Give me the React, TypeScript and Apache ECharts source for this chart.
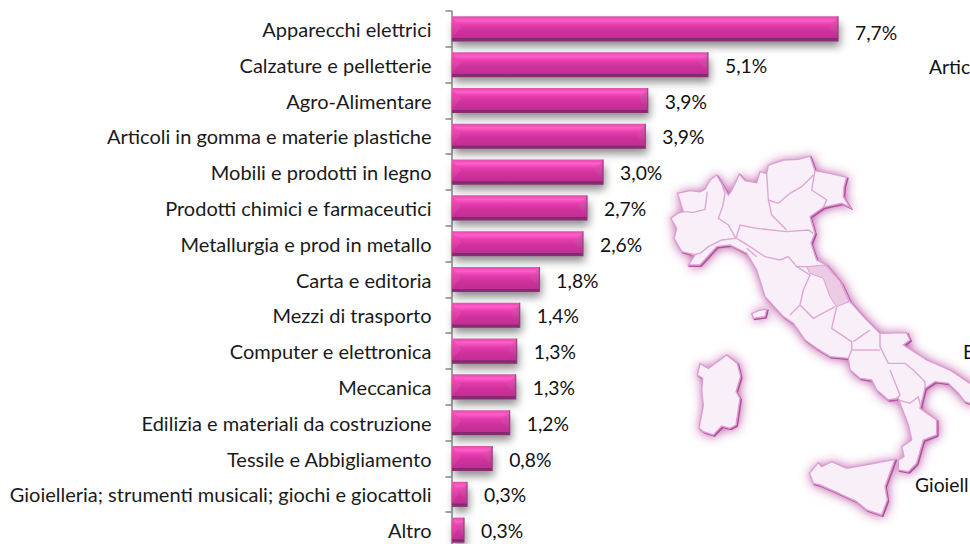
import React, { useEffect, useRef } from "react";
import * as echarts from "echarts";

const categories = [
  "Apparecchi elettrici",
  "Calzature e pelletterie",
  "Agro-Alimentare",
  "Articoli in gomma e materie plastiche",
  "Mobili e prodotti in legno",
  "Prodotti chimici e farmaceutici",
  "Metallurgia e prod in metallo",
  "Carta e editoria",
  "Mezzi di trasporto",
  "Computer e elettronica",
  "Meccanica",
  "Edilizia e materiali da costruzione",
  "Tessile e Abbigliamento",
  "Gioielleria; strumenti musicali; giochi e giocattoli",
  "Altro",
];
const values = [7.7, 5.11, 3.91, 3.86, 3.02, 2.7, 2.62, 1.75, 1.36, 1.3, 1.28, 1.16, 0.81, 0.31, 0.25];
const valueLabels = ["7,7%", "5,1%", "3,9%", "3,9%", "3,0%", "2,7%", "2,6%", "1,8%", "1,4%", "1,3%", "1,3%", "1,2%", "0,8%", "0,3%", "0,3%"];

const FONT = "Lato";
const FS = 20;
const VS = 19.3;

type P = [number, number];
const toPx = (pts: number[][], dx = 0, dy = 0): number[][] => pts.map(([x, y]) => [650 + x / 3 + dx, 150 + y / 3 + dy]);

const mainland: P[] = [
  [62,205],[82,190],[100,185],[92,160],[82,130],[120,122],[150,125],[165,118],[180,90],[200,75],[215,100],[235,135],[245,122],[268,72],[285,92],[320,98],[330,65],[350,70],[355,45],[400,30],[445,28],[480,18],[495,62],[540,70],[590,82],[582,110],[580,140],[600,172],[575,160],[520,172],[480,200],[495,250],[483,280],[500,330],[530,345],[575,400],[600,455],[650,510],[690,550],[770,548],[780,570],[760,585],[800,610],[830,630],[900,660],[960,700],[1000,740],[960,760],[945,755],[925,730],[895,700],[855,695],[825,715],[810,775],[860,810],[860,855],[820,870],[800,940],[775,965],[745,960],[745,930],[762,920],[755,890],[785,870],[775,825],[750,760],[745,745],[715,750],[680,720],[665,690],[630,685],[600,660],[595,625],[540,620],[500,595],[465,570],[430,520],[400,500],[345,440],[320,360],[290,310],[240,285],[200,290],[150,345],[115,345],[135,315],[95,305],[72,265],[80,235],
];
const sardinia: P[] = [
  [150,640],[175,655],[230,615],[262,640],[272,680],[258,725],[270,745],[258,825],[240,835],[215,828],[190,855],[160,845],[147,835],[160,765],[155,720],[158,685],[142,675],
];
const sicily: P[] = [
  [478,970],[505,938],[515,950],[545,935],[590,955],[660,942],[735,928],[705,1010],[712,1050],[695,1095],[650,1080],[620,1055],[555,1025],[510,1005],[490,1000],
];
const elba: P[] = [[305,490],[330,480],[350,478],[345,500],[310,505]];
const marche: P[] = [[470,350],[525,345],[570,395],[597,455],[560,470],[540,440],[520,385],[480,370]];
const borders: P[][] = [
  [[100,185],[130,187],[165,178],[172,125]],
  [[215,100],[225,130],[218,170],[205,205],[235,225],[258,265]],
  [[258,265],[215,270],[175,290],[150,310],[125,315]],
  [[258,265],[270,225],[320,235],[410,245]],
  [[350,70],[355,150],[365,195],[410,240]],
  [[355,150],[385,160],[420,130],[455,110],[490,75]],
  [[495,62],[485,120],[530,150],[520,172]],
  [[260,265],[300,290],[345,320],[390,330],[415,320],[440,350],[475,350]],
  [[410,245],[475,240],[490,250]],
  [[290,295],[320,320]],
  [[440,350],[480,375],[460,420],[450,465],[420,495]],
  [[450,465],[490,505],[555,470]],
  [[560,470],[545,535],[605,575],[605,600],[595,625]],
  [[660,540],[610,575]],
  [[690,550],[690,590],[715,640],[735,640]],
  [[605,600],[690,600]],
  [[720,660],[750,735],[735,750]],
  [[735,640],[765,640],[790,660],[825,695],[825,715]],
  [[745,750],[780,760],[805,740],[812,770]],
];

const glow = (pts: P[]) => ({
  type: "polygon",
  shape: { points: toPx(pts, 1.2, 1.2) },
  style: {
    fill: "#b24ea0",
    stroke: "#b24ea0",
    lineWidth: 1.5,
    shadowBlur: 11,
    shadowColor: "rgba(170,50,145,0.85)",
  },
});
const coastInner = (pts: P[]) => ({
  type: "polygon",
  shape: { points: toPx(pts) },
  style: { fill: "#f9eff8", stroke: "#dd9fd1", lineWidth: 1.4 },
});

const islands = [mainland, sardinia, sicily, elba];
const mapGraphics: any[] = [
  ...islands.map(glow),
  ...islands.map(coastInner),
  { type: "polygon", shape: { points: toPx(marche) }, style: { fill: "#eecbe4", stroke: "#dd9fd1", lineWidth: 1 } },
  ...borders.map((b) => ({
    type: "polyline",
    shape: { points: toPx(b) },
    style: { fill: "none", stroke: "#dfa6d4", lineWidth: 1.4 },
  })),
];

const clippedLabels = [
  { text: "Artico", x: 929, y: 66 },
  { text: "E", x: 963, y: 351 },
  { text: "Gioiell", x: 915, y: 484 },
];

const renderBar = (params: any, api: any) => {
  const idx = params.dataIndex;
  const origin = api.coord([0, idx]);
  const end = api.coord([api.value(0), idx]);
  const band = api.size([0, 1])[1];
  const h = band * 0.7;
  const x0 = origin[0] + 0.5;
  const x1 = end[0];
  const y0 = origin[1] - h / 2;
  const y1 = y0 + h;
  const w = x1 - x0;
  const b = Math.min(9, w / 2);
  const poly = (points: number[][], fill: any) => ({ type: "polygon", shape: { points }, style: { fill } });
  const vgrad = (stops: [number, string][]) =>
    new echarts.graphic.LinearGradient(0, 0, 0, 1, stops.map(([offset, color]) => ({ offset, color })));
  return {
    type: "group",
    children: [
      {
        type: "rect",
        shape: { x: x0, y: y0 + 2, width: w, height: h - 2 },
        style: { fill: "#8c8c8c", shadowBlur: 8, shadowColor: "rgba(0,0,0,0.45)", shadowOffsetX: 2, shadowOffsetY: 5 },
      },
      {
        type: "rect",
        shape: { x: x0, y: y0, width: w, height: h },
        style: { fill: vgrad([[0, "#c9659f"], [0.05, "#ef4cb8"], [0.16, "#ff5ec8"], [0.34, "#e53cae"], [0.55, "#cf329d"], [0.86, "#c22e93"], [0.88, "#7f2a6b"], [1, "#8c2f77"]]) },
      },
      poly([[x0, y0 + 1], [x0 + b, y0 + h * 0.42], [x0, y0 + h * 0.86]], vgrad([[0, "#f84fbd"], [1, "#cb329a"]])),
      poly([[x1, y0 + 1], [x1 - b, y0 + h * 0.42], [x1, y0 + h * 0.86]], vgrad([[0, "#e85db7"], [1, "#b82c8d"]])),
      { type: "line", shape: { x1: x1, y1: y0, x2: x1, y2: y1 }, style: { stroke: "#8a3a7a", lineWidth: 1 } },
      { type: "text", x: x1 + 17, y: origin[1] + (idx === 0 ? 3.5 : 0.5), style: { text: valueLabels[idx], font: `${VS}px ${FONT}`, fill: "#111", verticalAlign: "middle", align: "left" } },
    ],
  };
};

export default function App() {
  const ref = useRef<HTMLDivElement>(null);
  useEffect(() => {
    const chart = echarts.init(ref.current!, null, { renderer: "svg" });
    chart.setOption({
      animation: false,
      backgroundColor: "#fff",
      grid: { left: 451.5, width: 502, top: 11, height: 537, outerBoundsMode: "none" },
      xAxis: { type: "value", min: 0, max: 10, show: false },
      yAxis: {
        type: "category",
        inverse: true,
        data: categories,
        axisLine: { show: true, lineStyle: { color: "#868686", width: 1.5 } },
        axisTick: { show: true, length: 6, lineStyle: { color: "#868686", width: 1.5 } },
        axisLabel: { margin: 20, color: "#1a1a1a", fontFamily: FONT, fontSize: FS, padding: [0, 0, 2, 0] },
      },
      series: [
        {
          type: "custom",
          coordinateSystem: "cartesian2d",
          clip: false,
          encode: { x: 0, y: 1 },
          data: values.map((v, i) => [v, i]),
          renderItem: renderBar,
          z: 3,
        },
      ],
      graphic: [
        ...mapGraphics.map((g) => ({ ...g, z: 1 })),
        ...clippedLabels.map((l) => ({
          type: "text",
          x: l.x,
          y: l.y,
          z: 10,
          style: { text: l.text, font: `${VS}px ${FONT}`, fill: "#111", verticalAlign: "middle" },
        })),
      ],
    });
    return () => chart.dispose();
  }, []);
  return <div ref={ref} style={{ position: "fixed", left: 0, top: 0, width: 970, height: 544, overflow: "hidden" }} />;
}
